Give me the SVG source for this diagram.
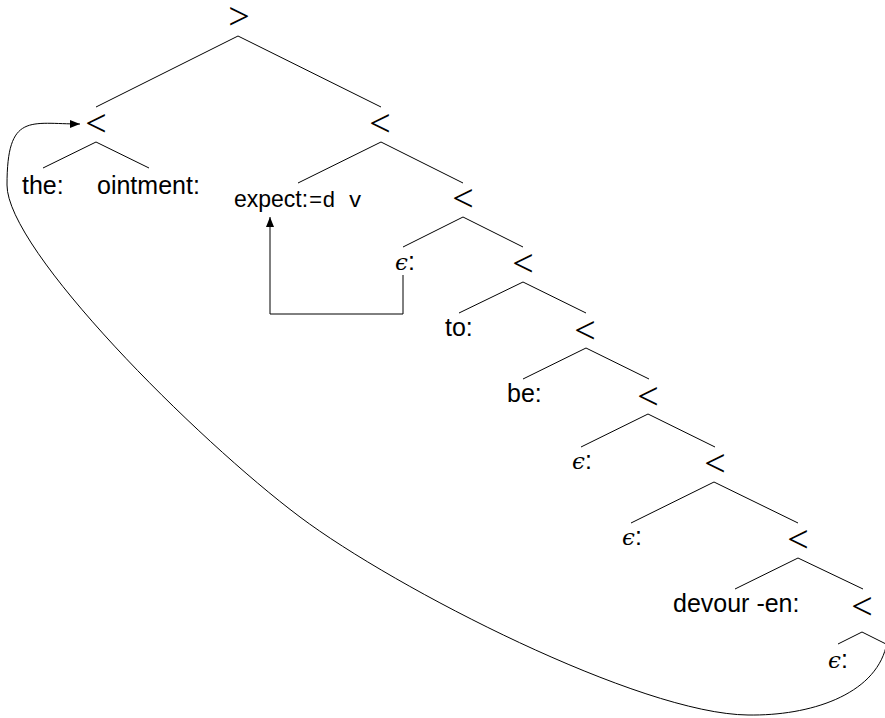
<svg xmlns="http://www.w3.org/2000/svg" width="885" height="718" viewBox="0 0 885 718">
<defs>
<style>
.rel{font-family:"Liberation Serif",serif;font-size:38px;text-anchor:middle;fill:#000}
.lab{font-family:"Liberation Sans",Arial,sans-serif;font-size:25px;fill:#000}
.mono{font-family:"Liberation Mono",monospace;font-size:22px}
.eps{font-family:"DejaVu Serif",serif;font-style:italic;font-size:23px}
.edge{fill:none;stroke:#000;stroke-width:1}
</style>
<marker id="ah" viewBox="0 0 10 8" refX="10" refY="4" markerWidth="10" markerHeight="8" markerUnits="userSpaceOnUse" orient="auto">
<path d="M0,0 L10,4 L0,8 Z" fill="#000"/>
</marker>
</defs>
<rect width="885" height="718" fill="#fff"/>

<g id="n-root"><text class="rel" x="239" y="29" font-size="30">&gt;</text></g>
<g id="n-l"><text class="rel" x="96" y="136">&lt;</text></g>
<g id="n-the"><text class="lab" x="22" y="194">the:</text></g>
<g id="n-ointment"><text class="lab" x="97" y="194">ointment:</text></g>
<g id="n-r1"><text class="rel" x="380" y="136">&lt;</text></g>
<g id="n-expect"><text class="lab" x="234" y="207"><tspan font-size="23">expect:</tspan><tspan class="mono" x="309">=d v</tspan></text></g>
<g id="n-r2"><text class="rel" x="463" y="211">&lt;</text></g>
<g id="n-eps1"><text class="lab" x="395" y="270"><tspan class="eps">ϵ</tspan>:</text></g>
<g id="n-r3"><text class="rel" x="523" y="276">&lt;</text></g>
<g id="n-to"><text class="lab" x="445" y="336">to:</text></g>
<g id="n-r4"><text class="rel" x="585" y="343">&lt;</text></g>
<g id="n-be"><text class="lab" x="507" y="402">be:</text></g>
<g id="n-r5"><text class="rel" x="648" y="409">&lt;</text></g>
<g id="n-eps2"><text class="lab" x="572" y="469"><tspan class="eps">ϵ</tspan>:</text></g>
<g id="n-r6"><text class="rel" x="715" y="476">&lt;</text></g>
<g id="n-eps3"><text class="lab" x="622" y="545"><tspan class="eps">ϵ</tspan>:</text></g>
<g id="n-r7"><text class="rel" x="798" y="552">&lt;</text></g>
<g id="n-devour"><text class="lab" x="673" y="612">devour -en:</text></g>
<g id="n-r8"><text class="rel" x="862" y="619">&lt;</text></g>
<g id="n-eps4"><text class="lab" x="828" y="668"><tspan class="eps">ϵ</tspan>:</text></g>

<g id="connectors">
<path class="edge" d="M96,107 L238,36 L381,107"/>
<path class="edge" d="M43,168 L96,142 L149,168"/>
<path class="edge" d="M298,183 L381,142 L463,183"/>
<path class="edge" d="M403,247 L463,217 L523,247"/>
<path class="edge" d="M459,313 L523,282 L586,313"/>
<path class="edge" d="M523,379 L586,348 L649,379"/>
<path class="edge" d="M581,447 L648,414 L715,447"/>
<path class="edge" d="M631,523 L714,482 L798,523"/>
<path class="edge" d="M735,589 L798,558 L863,589"/>
<path class="edge" d="M838,644 L862,632 L886,644"/>
<path class="edge" d="M403,275 V314 H270 V217" marker-end="url(#ah)"/>
<path class="edge" d="M886,647 C874,695 810,716 748,715 C640,714 396,589 300,517 C196,439 7,250 7,185 C7,112 30,124 80,124" marker-end="url(#ah)"/>
</g>
</svg>
